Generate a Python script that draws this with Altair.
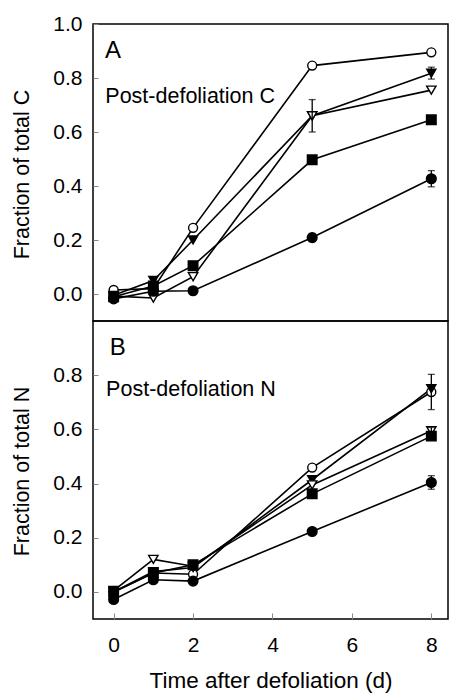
import altair as alt
import pandas as pd

# ---- data ----
TIMES = [0, 1, 2, 5, 8]
SERIES = ["open_circle", "filled_tri", "open_tri", "filled_square", "filled_circle"]
SHAPES = ["circle", "triangle-down", "triangle-down", "square", "circle"]
FILLS = ["white", "black", "white", "black", "black"]
SIZES = [80, 95, 95, 80, 85]

# Panel A: post-defoliation C (fraction of total C)
C_OPEN_CIRCLE = [0.015, 0.02, 0.245, 0.846, 0.895]
C_FILLED_TRI = [-0.005, 0.05, 0.20, 0.66, 0.818]
C_OPEN_TRI = [-0.008, -0.015, 0.064, 0.66, 0.755]
C_FILLED_SQUARE = [-0.01, 0.03, 0.105, 0.497, 0.645]
C_FILLED_CIRCLE = [-0.018, 0.01, 0.012, 0.209, 0.427]

C_ERR_SERIES = ["filled_tri", "open_tri", "filled_circle", "filled_circle"]
C_ERR_T = [8, 5, 8, 5]
C_ERR_HALF = [0.022, 0.06, 0.03, 0.015]

# Panel B: post-defoliation N (fraction of total N)
N_OPEN_CIRCLE = [0.0, 0.07, 0.065, 0.459, 0.738]
N_FILLED_TRI = [0.0, 0.075, 0.09, 0.414, 0.75]
N_OPEN_TRI = [0.005, 0.12, 0.095, 0.395, 0.595]
N_FILLED_SQUARE = [0.0, 0.07, 0.10, 0.362, 0.575]
N_FILLED_CIRCLE = [-0.028, 0.045, 0.04, 0.223, 0.404]

N_ERR_SERIES = ["open_circle", "filled_circle", "open_tri"]
N_ERR_T = [8, 8, 8]
N_ERR_HALF = [0.065, 0.025, 0.012]

X_TICKS = [0, 2, 4, 6, 8]
Y_TICKS_A = [0.0, 0.2, 0.4, 0.6, 0.8, 1.0]
Y_TICKS_B = [0.0, 0.2, 0.4, 0.6, 0.8]

FONT = "Liberation Sans"


def long_table(values):
    rows = []
    for s, vals in zip(SERIES, values):
        for t, v in zip(TIMES, vals):
            rows.append({"s": s, "t": t, "v": v})
    return pd.DataFrame(rows)


def err_table(series, times, halves, values):
    lookup = {s: dict(zip(TIMES, vals)) for s, vals in zip(SERIES, values)}
    rows = []
    for s, t, h in zip(series, times, halves):
        c = lookup[s][t]
        rows.append({"t": t, "v": c - h, "v2": c + h})
    return pd.DataFrame(rows)


C_VALUES = [C_OPEN_CIRCLE, C_FILLED_TRI, C_OPEN_TRI, C_FILLED_SQUARE, C_FILLED_CIRCLE]
N_VALUES = [N_OPEN_CIRCLE, N_FILLED_TRI, N_OPEN_TRI, N_FILLED_SQUARE, N_FILLED_CIRCLE]

xscale = alt.Scale(domain=[-0.52, 8.42], nice=False, zero=False)
yscale = alt.Scale(domain=[-0.1, 1.0], nice=False, zero=False)


def panel(values, err_df, ytitle, yticks, letter, letter_pos, label, label_pos,
          show_x, height):
    df = long_table(values)
    if show_x:
        xaxis = alt.Axis(values=X_TICKS, title="Time after defoliation (d)",
                         offset=-6, tickSize=6, domain=False, grid=False,
                         labelPadding=15, labelFontSize=21, titleFontSize=22.5,
                         titleFontWeight="normal", titleFont=FONT,
                         titleY=74, titleBaseline="alphabetic")
    else:
        xaxis = None
    yaxis = alt.Axis(values=yticks, format=".1f", title=ytitle, offset=-5,
                     tickSize=5, domain=False, grid=False, labelPadding=11,
                     labelFontSize=21, titleFontSize=21.5, titleFontWeight="normal",
                     titleFont=FONT, titleX=-76,
                     titleY=150, titleAngle=-90, titleAlign="center",
                     titleBaseline="middle")
    X = alt.X("t:Q", scale=xscale, axis=xaxis)
    Y = alt.Y("v:Q", scale=yscale, axis=yaxis)

    lines = alt.Chart(df).mark_line(color="black", strokeWidth=1.6).encode(
        x=X, y=Y, detail="s:N", order="t:Q")
    points = alt.Chart(df).mark_point(filled=True, stroke="black",
                                      strokeWidth=1.4, opacity=1).encode(
        x=X, y=Y,
        shape=alt.Shape("s:N", scale=alt.Scale(domain=SERIES, range=SHAPES), legend=None),
        fill=alt.Fill("s:N", scale=alt.Scale(domain=SERIES, range=FILLS), legend=None),
        size=alt.Size("s:N", scale=alt.Scale(domain=SERIES, range=SIZES), legend=None),
    )
    errs = alt.Chart(err_df).mark_errorbar(
        ticks={"size": 7, "thickness": 1.3}, thickness=1.3, color="black"
    ).encode(x=X, y=Y, y2="v2:Q")

    ann = pd.DataFrame({
        "t": [letter_pos[0], label_pos[0]],
        "v": [letter_pos[1], label_pos[1]],
        "label": [letter, label],
    })
    letter_txt = alt.Chart(ann.iloc[[0]]).mark_text(
        align="left", baseline="alphabetic", fontSize=24, font=FONT, color="black"
    ).encode(x=X, y=Y, text="label:N")
    label_txt = alt.Chart(ann.iloc[[1]]).mark_text(
        align="left", baseline="alphabetic", fontSize=21.5, font=FONT, color="black"
    ).encode(x=X, y=Y, text="label:N")

    return alt.layer(lines, points, errs, letter_txt, label_txt).properties(
        width=355, height=height,
        view=alt.ViewBackground(stroke="black", strokeWidth=1.5))


err_c = err_table(C_ERR_SERIES, C_ERR_T, C_ERR_HALF, C_VALUES)
err_n = err_table(N_ERR_SERIES, N_ERR_T, N_ERR_HALF, N_VALUES)

panel_a = panel(C_VALUES, err_c, "Fraction of total C", Y_TICKS_A, "A", (-0.22, 0.873),
                "Post-defoliation C", (-0.21, 0.707), False, 297)
panel_b = panel(N_VALUES, err_n, "Fraction of total N", Y_TICKS_B, "B", (-0.1, 0.874),
                "Post-defoliation N", (-0.19, 0.724), True, 298)

chart = alt.vconcat(panel_a, panel_b, spacing=0, bounds="flush").properties(
    padding={"left": 10, "top": 12, "right": 0, "bottom": 0},
).configure_view(
    stroke="black", strokeWidth=1.5
).configure_axis(
    labelFont=FONT, titleFont=FONT, labelColor="black", titleColor="black",
    tickColor="black", tickWidth=1.3, titleFontWeight="normal",
).configure(background="white")

chart.save("out.html", embed_options={"renderer": "svg", "actions": False})
